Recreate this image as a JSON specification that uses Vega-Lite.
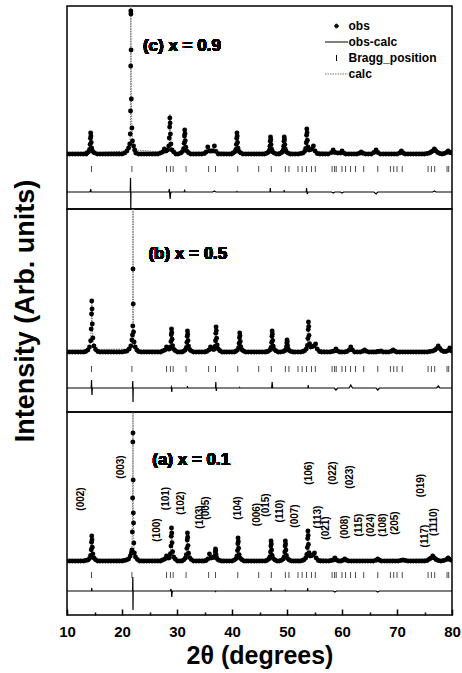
{
"$schema":"https://vega.github.io/schema/vega-lite/v6.json",
"padding":{"left":10,"top":5,"right":2,"bottom":2},
"spacing":0,
"bounds":"flush",
"config":{"font":"Liberation Sans","view":{"stroke":"black","strokeWidth":1.5},"mark":{"invalid":"filter"}},
"datasets":{
"bragg":[{"b":14.45},{"b":21.8},{"b":28.1},{"b":28.8},{"b":29.3},{"b":31.65},{"b":35.75},{"b":37.0},{"b":41.05},{"b":44.85},{"b":47.15},{"b":49.7},{"b":50.35},{"b":52.0},{"b":52.75},{"b":53.55},{"b":54.45},{"b":55.15},{"b":58.2},{"b":58.65},{"b":58.95},{"b":60.0},{"b":60.65},{"b":61.55},{"b":62.45},{"b":63.95},{"b":66.5},{"b":68.8},{"b":69.4},{"b":70.0},{"b":70.95},{"b":75.65},{"b":76.25},{"b":76.85},{"b":79.1},{"b":79.4}],
"hkl":[{"hkl":"(002)","t":12.6,"h":62},{"hkl":"(003)","t":19.75,"h":94},{"hkl":"(100)","t":26.4,"h":31},{"hkl":"(101)","t":28.05,"h":62.5},{"hkl":"(102)","t":30.8,"h":58},{"hkl":"(103)","t":34.1,"h":44},{"hkl":"(005)","t":35.3,"h":53},{"hkl":"(104)","t":41.1,"h":53},{"hkl":"(006)","t":44.5,"h":46.5},{"hkl":"(015)","t":46.1,"h":56},{"hkl":"(110)","t":48.8,"h":50},{"hkl":"(007)","t":51.4,"h":45},{"hkl":"(106)","t":54.0,"h":88},{"hkl":"(113)","t":55.6,"h":44},{"hkl":"(021)","t":57.1,"h":33},{"hkl":"(022)","t":58.4,"h":88},{"hkl":"(008)","t":60.5,"h":34},{"hkl":"(023)","t":61.4,"h":84},{"hkl":"(115)","t":63.1,"h":36},{"hkl":"(024)","t":65.2,"h":36},{"hkl":"(108)","t":67.5,"h":36},{"hkl":"(205)","t":69.7,"h":38},{"hkl":"(019)","t":74.4,"h":75.5},{"hkl":"(117)","t":75.0,"h":25},{"hkl":"(1110)","t":76.8,"h":39}],
"c":[
{"t":10,"o":0,"c":0,"d":0},{"t":10.5,"o":0},{"t":11,"o":0},{"t":11.5,"o":0},{"t":12,"o":0},{"t":12.5,"o":0},{"t":13,"o":0},{"t":13.5,"o":0},
{"t":13.6,"o":1,"c":1,"d":0},{"t":13.9,"o":2,"c":2,"d":0},{"t":14.1,"o":4.6,"c":4.6,"d":0},{"t":14.2,"o":9.5,"c":9,"d":0.5},{"t":14.26,"o":15.8,"c":15,"d":1},{"t":14.3,"o":21,"c":18,"d":3},{"t":14.35,"o":17.9,"c":17,"d":1},{"t":14.4,"o":11.6,"c":11.6,"d":0},{"t":14.5,"o":5.9,"c":5.9,"d":0},{"t":14.7,"o":2.5,"c":2.5,"d":0},{"t":15,"o":1.1,"c":1.1,"d":0},
{"t":15.5,"o":0},{"t":16,"o":0},{"t":16.5,"o":0},{"t":17,"o":0},{"t":17.5,"o":0},{"t":18,"o":0},{"t":18.5,"o":0},{"t":19,"o":0},{"t":19.5,"o":0},{"t":20,"o":0},{"t":20.5,"o":1},
{"t":20.9,"o":3,"c":3,"d":0},{"t":21.2,"o":6,"c":6,"d":0},{"t":21.4,"o":10,"c":10,"d":0},{"t":21.5,"o":20,"c":20,"d":0},{"t":21.55,"o":43,"c":29,"d":14},{"t":21.58,"o":88,"c":88,"d":0},{"t":21.6,"o":143,"c":165,"d":-18},{"t":21.62,"o":140,"c":140,"d":0},{"t":21.65,"o":104,"c":104,"d":0},{"t":21.7,"o":55,"c":55,"d":0},{"t":21.8,"o":26,"c":26,"d":0},{"t":21.9,"o":13,"c":13,"d":0},{"t":22.1,"o":8,"c":8,"d":0},{"t":22.3,"o":4,"c":4,"d":0},
{"t":22.5,"o":1},{"t":23,"o":0},{"t":23.5,"o":0},{"t":24,"o":0},{"t":24.5,"o":0},{"t":25,"o":0},{"t":25.5,"o":0},{"t":26,"o":0},{"t":26.5,"o":0},{"t":27,"o":1},
{"t":27.4,"o":2,"c":2,"d":0},{"t":27.7,"o":5,"c":5,"d":0},{"t":28,"o":3,"c":3,"d":0},{"t":28.3,"o":4,"c":4,"d":0},{"t":28.5,"o":8,"c":8,"d":0},{"t":28.6,"o":16,"c":13,"d":3},{"t":28.66,"o":27,"c":27,"d":0},{"t":28.7,"o":36,"c":40,"d":-4},{"t":28.75,"o":31,"c":38,"d":-7},{"t":28.8,"o":20,"c":23,"d":-3},{"t":28.9,"o":10,"c":10,"d":0},{"t":29.1,"o":4,"c":4,"d":0},{"t":29.4,"o":2,"c":2,"d":0},
{"t":29.8,"o":0},{"t":30.2,"o":0},
{"t":30.7,"o":1,"c":1,"d":0},{"t":31,"o":2.4,"c":2.4,"d":0},{"t":31.2,"o":5.3,"c":5.3,"d":0},{"t":31.3,"o":10.8,"c":10.8,"d":0},{"t":31.36,"o":18,"c":17,"d":1},{"t":31.4,"o":24,"c":22.5,"d":1.5},{"t":31.45,"o":20.4,"c":20,"d":0.4},{"t":31.5,"o":13.2,"c":13.2,"d":0},{"t":31.6,"o":6.7,"c":6.7,"d":0},{"t":31.8,"o":2.9,"c":2.9,"d":0},{"t":32.1,"o":1.2,"c":1.2,"d":0},
{"t":32.5,"o":0},{"t":33,"o":0},{"t":33.5,"o":0},{"t":34,"o":0},{"t":34.5,"o":0},{"t":35,"o":0.5},
{"t":35.3,"o":2,"c":2,"d":0},{"t":35.6,"o":7,"c":7,"d":0},{"t":35.9,"o":3,"c":3,"d":0},{"t":36.2,"o":3,"c":3,"d":0},{"t":36.5,"o":3,"c":3,"d":0},{"t":36.8,"o":8,"c":7,"d":1},{"t":37.1,"o":2.5,"c":2.5,"d":0},
{"t":37.5,"o":0},{"t":38,"o":0},{"t":38.5,"o":0},{"t":39,"o":0},{"t":39.5,"o":0},{"t":39.9,"o":0},
{"t":40.2,"o":1,"c":1,"d":0},{"t":40.5,"o":2.1,"c":2.1,"d":0},{"t":40.7,"o":4.6,"c":4.6,"d":0},{"t":40.8,"o":9.5,"c":9.5,"d":0},{"t":40.86,"o":15.8,"c":15.5,"d":0.3},{"t":40.9,"o":21,"c":20.5,"d":0.5},{"t":40.95,"o":17.9,"c":17.9,"d":0},{"t":41,"o":11.6,"c":11.6,"d":0},{"t":41.1,"o":5.9,"c":5.9,"d":0},{"t":41.3,"o":2.5,"c":2.5,"d":0},{"t":41.6,"o":1.1,"c":1.1,"d":0},
{"t":42,"o":0},{"t":42.5,"o":0},{"t":43,"o":0},{"t":43.5,"o":0},{"t":44,"o":0},{"t":44.5,"o":0},{"t":45,"o":0},{"t":45.5,"o":0},{"t":45.9,"o":0},
{"t":46.3,"o":0.7,"c":0.7,"d":0},{"t":46.6,"o":1.7,"c":1.7,"d":0},{"t":46.8,"o":3.7,"c":3.7,"d":0},{"t":46.9,"o":7.7,"c":7.7,"d":0},{"t":46.96,"o":12.8,"c":8.8,"d":4},{"t":47,"o":17,"c":16,"d":1},{"t":47.05,"o":14.5,"c":14.5,"d":0},{"t":47.1,"o":9.4,"c":9.4,"d":0},{"t":47.2,"o":4.8,"c":4.8,"d":0},{"t":47.4,"o":2,"c":2,"d":0},{"t":47.7,"o":0.9,"c":0.9,"d":0},
{"t":48.1,"o":0},{"t":48.5,"o":0},
{"t":48.8,"o":0.7,"c":0.7,"d":0},{"t":49.1,"o":1.7,"c":1.7,"d":0},{"t":49.3,"o":3.7,"c":3.7,"d":0},{"t":49.4,"o":7.7,"c":7.7,"d":0},{"t":49.46,"o":12.8,"c":12.8,"d":0},{"t":49.5,"o":17,"c":15,"d":2},{"t":49.55,"o":14.5,"c":14.5,"d":0},{"t":49.6,"o":9.4,"c":9.4,"d":0},{"t":49.7,"o":4.8,"c":4.8,"d":0},{"t":49.9,"o":2,"c":2,"d":0},{"t":50.2,"o":0.9,"c":0.9,"d":0},
{"t":50.6,"o":0},{"t":51,"o":0},{"t":51.5,"o":0},{"t":52,"o":0},{"t":52.5,"o":0.5},
{"t":52.9,"o":1,"c":1,"d":0},{"t":53.2,"o":2.5,"c":2.5,"d":0},{"t":53.4,"o":5.5,"c":5.5,"d":0},{"t":53.5,"o":11.3,"c":11.3,"d":0},{"t":53.56,"o":18.8,"c":14.8,"d":4},{"t":53.6,"o":25,"c":25,"d":0},{"t":53.65,"o":21.3,"c":21.3,"d":0},{"t":53.7,"o":13.8,"c":15.8,"d":-2},{"t":53.8,"o":7,"c":7,"d":0},{"t":54,"o":4,"c":4,"d":0},{"t":54.3,"o":4.5,"c":4.5,"d":0},{"t":54.5,"o":5,"c":5,"d":0},{"t":54.8,"o":8,"c":8,"d":0},{"t":55.1,"o":3,"c":3,"d":0},
{"t":55.5,"o":0.5},{"t":56,"o":0},{"t":56.5,"o":0},{"t":57,"o":0},{"t":57.5,"o":0},
{"t":58.1,"o":1.5,"c":1.5,"d":0},{"t":58.4,"o":4,"c":5,"d":-1},{"t":58.7,"o":1.5,"c":1.5,"d":0},{"t":59.2,"o":1},{"t":59.7,"o":1,"c":1,"d":0},{"t":60,"o":3,"c":4,"d":-1},{"t":60.3,"o":1,"c":1,"d":0},
{"t":60.7,"o":0},{"t":61.2,"o":0},{"t":61.7,"o":0},{"t":62.2,"o":0},{"t":62.7,"o":0},
{"t":63.2,"o":0.8,"c":0.8,"d":0},{"t":63.5,"o":2,"c":2,"d":0},{"t":63.8,"o":0.8,"c":0.8,"d":0},
{"t":64.3,"o":0},{"t":64.8,"o":0},{"t":65.3,"o":0},
{"t":65.8,"o":1.5,"c":1.5,"d":0},{"t":66.2,"o":4,"c":6,"d":-2},{"t":66.5,"o":1.5,"c":1.5,"d":0},
{"t":67,"o":0},{"t":67.5,"o":0},{"t":68,"o":0},{"t":68.5,"o":0},{"t":69,"o":0},{"t":69.5,"o":0},{"t":70,"o":0},
{"t":70.5,"o":1,"c":1,"d":0},{"t":70.8,"o":3,"c":3,"d":0},{"t":71.1,"o":1,"c":1,"d":0},
{"t":71.5,"o":0},{"t":72,"o":0},{"t":72.5,"o":0},{"t":73,"o":0},{"t":73.5,"o":0},{"t":74,"o":0},{"t":74.5,"o":0},{"t":75,"o":0},{"t":75.5,"o":0.5},{"t":75.9,"o":1},
{"t":76.2,"o":2,"c":2,"d":0},{"t":76.5,"o":3,"c":3,"d":0},{"t":76.8,"o":5,"c":4,"d":1},{"t":77.1,"o":3,"c":3,"d":0},{"t":77.4,"o":1.5,"c":1.5,"d":0},
{"t":77.8,"o":0.5},{"t":78.2,"o":0},{"t":78.6,"o":0.5},
{"t":79,"o":1.5,"c":1.5,"d":0},{"t":79.3,"o":3,"c":3,"d":0},{"t":79.6,"o":1.5,"c":1.5,"d":0},{"t":80,"o":1,"c":1,"d":0}
],
"b":[
{"t":10,"o":0,"c":0,"d":0},{"t":10.5,"o":0},{"t":11,"o":0},{"t":11.5,"o":0},{"t":12,"o":0},{"t":12.5,"o":0},{"t":13,"o":0},{"t":13.4,"o":0.5},
{"t":13.8,"o":2,"c":2,"d":0},{"t":14.1,"o":5.1,"c":5.1,"d":0},{"t":14.3,"o":11.2,"c":11.2,"d":0},{"t":14.4,"o":23,"c":23,"d":0},{"t":14.46,"o":38,"c":30,"d":8},{"t":14.5,"o":51,"c":51,"d":0},{"t":14.55,"o":43,"c":50,"d":-7},{"t":14.6,"o":28,"c":28,"d":0},{"t":14.7,"o":14,"c":14,"d":0},{"t":14.9,"o":6,"c":6,"d":0},{"t":15.2,"o":2.5,"c":2.5,"d":0},
{"t":15.6,"o":0.5},{"t":16,"o":0},{"t":16.5,"o":0},{"t":17,"o":0},{"t":17.5,"o":0},{"t":18,"o":0},{"t":18.5,"o":0},{"t":19,"o":0},{"t":19.5,"o":0},{"t":20,"o":0},{"t":20.5,"o":0.5},{"t":20.9,"o":1},
{"t":21.3,"o":3,"c":3,"d":0},{"t":21.6,"o":6,"c":6,"d":0},{"t":21.8,"o":12,"c":12,"d":0},{"t":21.9,"o":17,"c":17,"d":0},{"t":21.96,"o":26,"c":19,"d":7},{"t":22,"o":83,"c":165,"d":-14},{"t":22.04,"o":48,"c":48,"d":0},{"t":22.1,"o":20,"c":20,"d":0},{"t":22.2,"o":10,"c":10,"d":0},{"t":22.4,"o":5,"c":5,"d":0},{"t":22.7,"o":2,"c":2,"d":0},
{"t":23,"o":0.5},{"t":23.5,"o":0},{"t":24,"o":0},{"t":24.5,"o":0},{"t":25,"o":0},{"t":25.5,"o":0},{"t":26,"o":0},{"t":26.5,"o":0},{"t":27,"o":0},{"t":27.4,"o":1},
{"t":27.8,"o":2,"c":2,"d":0},{"t":28.1,"o":5,"c":5,"d":0},{"t":28.4,"o":3,"c":3,"d":0},{"t":28.6,"o":3,"c":3,"d":0},{"t":28.8,"o":5.1,"c":5.1,"d":0},{"t":28.9,"o":10.4,"c":10.4,"d":0},{"t":28.96,"o":17.3,"c":16.3,"d":1},{"t":29,"o":23,"c":23,"d":0},{"t":29.05,"o":19.6,"c":23.6,"d":-4},{"t":29.1,"o":12.7,"c":12.7,"d":0},{"t":29.2,"o":6.4,"c":6.4,"d":0},{"t":29.4,"o":2.8,"c":2.8,"d":0},{"t":29.7,"o":1.2,"c":1.2,"d":0},
{"t":30.1,"o":0},{"t":30.5,"o":0},{"t":30.9,"o":0},
{"t":31.2,"o":0.8,"c":0.8,"d":0},{"t":31.5,"o":2.1,"c":2.1,"d":0},{"t":31.7,"o":4.6,"c":4.6,"d":0},{"t":31.8,"o":9.5,"c":9.5,"d":0},{"t":31.86,"o":15.8,"c":15.8,"d":0},{"t":31.9,"o":21,"c":19,"d":2},{"t":31.95,"o":17.9,"c":17.9,"d":0},{"t":32,"o":11.6,"c":11.6,"d":0},{"t":32.1,"o":5.9,"c":5.9,"d":0},{"t":32.3,"o":2.5,"c":2.5,"d":0},{"t":32.6,"o":1.1,"c":1.1,"d":0},
{"t":33,"o":0},{"t":33.5,"o":0},{"t":34,"o":0},{"t":34.5,"o":0},{"t":35,"o":0},{"t":35.4,"o":0.5},
{"t":35.8,"o":2,"c":2,"d":0},{"t":36.1,"o":5,"c":5,"d":0},{"t":36.4,"o":3,"c":3,"d":0},{"t":36.7,"o":2.5,"c":2.5,"d":0},{"t":36.9,"o":5.5,"c":5.5,"d":0},{"t":37,"o":11.3,"c":11.3,"d":0},{"t":37.06,"o":18.8,"c":12.8,"d":6},{"t":37.1,"o":25,"c":25,"d":0},{"t":37.15,"o":21.3,"c":24.3,"d":-3},{"t":37.2,"o":13.8,"c":13.8,"d":0},{"t":37.3,"o":7,"c":7,"d":0},{"t":37.5,"o":3,"c":3,"d":0},{"t":37.8,"o":1.3,"c":1.3,"d":0},
{"t":38.2,"o":0},{"t":38.6,"o":0},{"t":39,"o":0},{"t":39.5,"o":0},{"t":40,"o":0},{"t":40.4,"o":0},
{"t":40.7,"o":0.8,"c":0.8,"d":0},{"t":41,"o":1.9,"c":1.9,"d":0},{"t":41.2,"o":4.2,"c":4.2,"d":0},{"t":41.3,"o":8.6,"c":8.6,"d":0},{"t":41.36,"o":14.3,"c":14.3,"d":0},{"t":41.4,"o":19,"c":18.5,"d":0.5},{"t":41.45,"o":16.2,"c":16.2,"d":0},{"t":41.5,"o":10.5,"c":10.5,"d":0},{"t":41.6,"o":5.3,"c":5.3,"d":0},{"t":41.8,"o":2.3,"c":2.3,"d":0},{"t":42.1,"o":1,"c":1,"d":0},
{"t":42.5,"o":0},{"t":43,"o":0},{"t":43.5,"o":0},{"t":44,"o":0},{"t":44.5,"o":0},{"t":45,"o":0},{"t":45.5,"o":0},{"t":46,"o":0},{"t":46.3,"o":0.3},
{"t":46.6,"o":0.8,"c":0.8,"d":0},{"t":46.9,"o":2.1,"c":2.1,"d":0},{"t":47.1,"o":4.6,"c":4.6,"d":0},{"t":47.2,"o":9.5,"c":9.5,"d":0},{"t":47.26,"o":15.8,"c":12.8,"d":3},{"t":47.3,"o":21,"c":15,"d":6},{"t":47.35,"o":17.9,"c":14.9,"d":3},{"t":47.4,"o":11.6,"c":11.6,"d":0},{"t":47.5,"o":5.9,"c":5.9,"d":0},{"t":47.7,"o":2.5,"c":2.5,"d":0},{"t":48,"o":1.1,"c":1.1,"d":0},
{"t":48.4,"o":0},{"t":48.8,"o":0},
{"t":49.3,"o":0.5,"c":0.5,"d":0},{"t":49.6,"o":1.2,"c":1.2,"d":0},{"t":49.8,"o":2.6,"c":2.6,"d":0},{"t":49.9,"o":5.4,"c":5.4,"d":0},{"t":49.96,"o":9,"c":9,"d":0},{"t":50,"o":12,"c":12,"d":0},{"t":50.05,"o":10.2,"c":10.2,"d":0},{"t":50.1,"o":6.6,"c":6.6,"d":0},{"t":50.2,"o":3.4,"c":3.4,"d":0},{"t":50.4,"o":1.4,"c":1.4,"d":0},{"t":50.7,"o":0.6,"c":0.6,"d":0},
{"t":51.1,"o":0},{"t":51.5,"o":0},{"t":52,"o":0},{"t":52.5,"o":0},{"t":52.9,"o":0.5},
{"t":53.2,"o":1.2,"c":1.2,"d":0},{"t":53.5,"o":3,"c":3,"d":0},{"t":53.7,"o":6.6,"c":6.6,"d":0},{"t":53.8,"o":13.5,"c":13.5,"d":0},{"t":53.86,"o":22.5,"c":19.5,"d":3},{"t":53.9,"o":30,"c":30,"d":0},{"t":53.95,"o":25.5,"c":25.5,"d":0},{"t":54,"o":16.5,"c":16.5,"d":0},{"t":54.1,"o":8.4,"c":8.4,"d":0},{"t":54.3,"o":5,"c":5,"d":0},{"t":54.6,"o":5.5,"c":5.5,"d":0},{"t":54.9,"o":6,"c":6,"d":0},{"t":55.2,"o":8,"c":8,"d":0},{"t":55.5,"o":3,"c":3,"d":0},
{"t":55.9,"o":0.5},{"t":56.3,"o":0},{"t":56.8,"o":0},{"t":57.3,"o":0},{"t":57.8,"o":0},{"t":58.2,"o":0.5},
{"t":58.6,"o":1,"c":1,"d":0},{"t":58.9,"o":3,"c":5,"d":-2},{"t":59.2,"o":1,"c":1,"d":0},
{"t":59.6,"o":0},{"t":60,"o":0},{"t":60.5,"o":0},{"t":60.9,"o":0.5},
{"t":61.3,"o":2,"c":2,"d":0},{"t":61.6,"o":5,"c":2,"d":3},{"t":61.9,"o":2,"c":2,"d":0},
{"t":62.3,"o":0},{"t":62.8,"o":0},{"t":63.3,"o":0},
{"t":63.8,"o":0.8,"c":0.8,"d":0},{"t":64.1,"o":2,"c":2,"d":0},{"t":64.4,"o":0.8,"c":0.8,"d":0},
{"t":64.9,"o":0},{"t":65.4,"o":0},{"t":65.8,"o":0},
{"t":66.2,"o":0,"c":0,"d":0},{"t":66.5,"o":0.5,"c":2.5,"d":-2},{"t":66.8,"o":0.5,"c":0.5,"d":0},
{"t":67.1,"o":1},{"t":67.5,"o":0},{"t":68,"o":0},{"t":68.5,"o":0},
{"t":69,"o":0.8,"c":0.8,"d":0},{"t":69.3,"o":2,"c":2,"d":0},{"t":69.6,"o":0.8,"c":0.8,"d":0},
{"t":70,"o":0},{"t":70.5,"o":0},{"t":71,"o":0},{"t":71.5,"o":0},{"t":72,"o":0},{"t":72.5,"o":0},{"t":73,"o":0},{"t":73.5,"o":0},{"t":74,"o":0},{"t":74.5,"o":0},{"t":75,"o":0},{"t":75.5,"o":0},{"t":76,"o":0.5},{"t":76.5,"o":1},
{"t":76.9,"o":2,"c":2,"d":0},{"t":77.2,"o":3.5,"c":3.5,"d":0},{"t":77.5,"o":6,"c":4,"d":2},{"t":77.8,"o":3.5,"c":3.5,"d":0},{"t":78.1,"o":1.5,"c":1.5,"d":0},
{"t":78.5,"o":0.5},{"t":78.9,"o":0.5},
{"t":79.3,"o":1.5,"c":1.5,"d":0},{"t":79.6,"o":4,"c":4,"d":0},{"t":79.9,"o":1.5,"c":1.5,"d":0},{"t":80,"o":1,"c":1,"d":0}
],
"a":[
{"t":10,"o":0,"c":0,"d":0},{"t":10.5,"o":0},{"t":11,"o":0},{"t":11.5,"o":0},{"t":12,"o":0},{"t":12.5,"o":0},{"t":13,"o":0},{"t":13.4,"o":0.5},
{"t":13.8,"o":1,"c":1,"d":0},{"t":14.1,"o":2.5,"c":2.5,"d":0},{"t":14.3,"o":5.5,"c":5.5,"d":0},{"t":14.4,"o":11.3,"c":11.3,"d":0},{"t":14.46,"o":18.8,"c":18.8,"d":0},{"t":14.5,"o":25,"c":22,"d":3},{"t":14.55,"o":21.3,"c":21.3,"d":0},{"t":14.6,"o":13.8,"c":13.8,"d":0},{"t":14.7,"o":7,"c":7,"d":0},{"t":14.9,"o":3,"c":3,"d":0},{"t":15.2,"o":1.3,"c":1.3,"d":0},
{"t":15.6,"o":0},{"t":16,"o":0},{"t":16.5,"o":0},{"t":17,"o":0},{"t":17.5,"o":0},{"t":18,"o":0},{"t":18.5,"o":0},{"t":19,"o":0},{"t":19.5,"o":0},{"t":20,"o":0},{"t":20.4,"o":0.5},{"t":20.8,"o":1},
{"t":21.2,"o":2,"c":2,"d":0},{"t":21.5,"o":5,"c":5,"d":0},{"t":21.7,"o":8,"c":8,"d":0},{"t":21.8,"o":11,"c":11,"d":0},{"t":21.88,"o":29,"c":29,"d":0},{"t":21.93,"o":63,"c":63,"d":0},{"t":21.97,"o":119,"c":105,"d":14},{"t":22,"o":128,"c":165,"d":-19},{"t":22.03,"o":81,"c":81,"d":0},{"t":22.06,"o":48,"c":48,"d":0},{"t":22.1,"o":38,"c":38,"d":0},{"t":22.15,"o":18,"c":18,"d":0},{"t":22.25,"o":8,"c":8,"d":0},{"t":22.45,"o":4,"c":4,"d":0},{"t":22.8,"o":1.5,"c":1.5,"d":0},
{"t":23.2,"o":0},{"t":23.6,"o":0},{"t":24,"o":0},{"t":24.5,"o":0},{"t":25,"o":0},{"t":25.5,"o":0},{"t":26,"o":0},{"t":26.5,"o":0},{"t":27,"o":0},{"t":27.4,"o":1},
{"t":27.8,"o":2,"c":2,"d":0},{"t":28.1,"o":5,"c":5,"d":0},{"t":28.4,"o":3,"c":3,"d":0},{"t":28.6,"o":3.3,"c":3.3,"d":0},{"t":28.8,"o":7.3,"c":7.3,"d":0},{"t":28.9,"o":14.9,"c":12.9,"d":2},{"t":28.96,"o":24.8,"c":24.8,"d":0},{"t":29,"o":33,"c":33,"d":0},{"t":29.05,"o":28,"c":34,"d":-6},{"t":29.1,"o":18.2,"c":20.2,"d":-2},{"t":29.2,"o":9.2,"c":9.2,"d":0},{"t":29.4,"o":4,"c":4,"d":0},{"t":29.7,"o":1.7,"c":1.7,"d":0},
{"t":30.1,"o":0},{"t":30.5,"o":0},{"t":30.9,"o":0},
{"t":31.2,"o":1.1,"c":1.1,"d":0},{"t":31.5,"o":2.8,"c":2.8,"d":0},{"t":31.7,"o":6.2,"c":6.2,"d":0},{"t":31.8,"o":12.6,"c":12.6,"d":0},{"t":31.86,"o":21,"c":21,"d":0},{"t":31.9,"o":28,"c":28,"d":0},{"t":31.95,"o":23.8,"c":23.8,"d":0},{"t":32,"o":15.4,"c":15.4,"d":0},{"t":32.1,"o":7.8,"c":7.8,"d":0},{"t":32.3,"o":3.4,"c":3.4,"d":0},{"t":32.6,"o":1.4,"c":1.4,"d":0},
{"t":33,"o":0},{"t":33.5,"o":0},{"t":34,"o":0},{"t":34.5,"o":0},{"t":34.9,"o":0},{"t":35.3,"o":0.5},
{"t":35.6,"o":2,"c":2,"d":0},{"t":35.9,"o":7,"c":7,"d":0},{"t":36.2,"o":3,"c":3,"d":0},{"t":36.5,"o":3.5,"c":3.5,"d":0},{"t":36.7,"o":3.6,"c":3.6,"d":0},{"t":36.9,"o":5.4,"c":5.4,"d":0},{"t":36.96,"o":9,"c":9,"d":0},{"t":37,"o":12,"c":13,"d":-1},{"t":37.05,"o":10.2,"c":10.2,"d":0},{"t":37.1,"o":6.6,"c":6.6,"d":0},{"t":37.2,"o":3.4,"c":3.4,"d":0},{"t":37.4,"o":1.4,"c":1.4,"d":0},{"t":37.7,"o":0.6,"c":0.6,"d":0},
{"t":38.1,"o":0},{"t":38.5,"o":0},{"t":39,"o":0},{"t":39.5,"o":0},{"t":40,"o":0},
{"t":40.4,"o":0.9,"c":0.9,"d":0},{"t":40.7,"o":2.3,"c":2.3,"d":0},{"t":40.9,"o":5.1,"c":5.1,"d":0},{"t":41,"o":10.4,"c":10.4,"d":0},{"t":41.06,"o":17.3,"c":17.3,"d":0},{"t":41.1,"o":23,"c":23,"d":0},{"t":41.15,"o":19.6,"c":19.6,"d":0},{"t":41.2,"o":12.7,"c":12.7,"d":0},{"t":41.3,"o":6.4,"c":6.4,"d":0},{"t":41.5,"o":2.8,"c":2.8,"d":0},{"t":41.8,"o":1.2,"c":1.2,"d":0},
{"t":42.2,"o":0},{"t":42.6,"o":0},{"t":43,"o":0},{"t":43.5,"o":0},{"t":44,"o":0},{"t":44.5,"o":0},{"t":45,"o":0},{"t":45.5,"o":0},{"t":46,"o":0},
{"t":46.4,"o":0.8,"c":0.8,"d":0},{"t":46.7,"o":2,"c":2,"d":0},{"t":46.9,"o":4.4,"c":4.4,"d":0},{"t":47,"o":9,"c":9,"d":0},{"t":47.06,"o":15,"c":15,"d":0},{"t":47.1,"o":20,"c":17,"d":3},{"t":47.15,"o":17,"c":17,"d":0},{"t":47.2,"o":11,"c":11,"d":0},{"t":47.3,"o":5.6,"c":5.6,"d":0},{"t":47.5,"o":2.4,"c":2.4,"d":0},{"t":47.8,"o":1,"c":1,"d":0},
{"t":48.2,"o":0},{"t":48.6,"o":0},
{"t":49,"o":0.8,"c":0.8,"d":0},{"t":49.3,"o":2,"c":2,"d":0},{"t":49.5,"o":4.4,"c":4.4,"d":0},{"t":49.6,"o":9,"c":9,"d":0},{"t":49.66,"o":15,"c":15,"d":0},{"t":49.7,"o":20,"c":19,"d":1},{"t":49.75,"o":17,"c":17,"d":0},{"t":49.8,"o":11,"c":11,"d":0},{"t":49.9,"o":5.6,"c":5.6,"d":0},{"t":50.1,"o":2.4,"c":2.4,"d":0},{"t":50.4,"o":1,"c":1,"d":0},
{"t":50.8,"o":0},{"t":51.2,"o":0},{"t":51.6,"o":0},{"t":52,"o":0},{"t":52.4,"o":0},{"t":52.8,"o":0.5},
{"t":53.1,"o":1.2,"c":1.2,"d":0},{"t":53.4,"o":3,"c":3,"d":0},{"t":53.6,"o":6.6,"c":6.6,"d":0},{"t":53.7,"o":13.5,"c":13.5,"d":0},{"t":53.76,"o":22.5,"c":19.5,"d":3},{"t":53.8,"o":30,"c":30,"d":0},{"t":53.85,"o":25.5,"c":25.5,"d":0},{"t":53.9,"o":16.5,"c":16.5,"d":0},{"t":54,"o":8.4,"c":8.4,"d":0},{"t":54.2,"o":5,"c":5,"d":0},{"t":54.5,"o":5.5,"c":5.5,"d":0},{"t":54.7,"o":6,"c":6,"d":0},{"t":55,"o":8,"c":8,"d":0},{"t":55.3,"o":3,"c":3,"d":0},
{"t":55.7,"o":0.5},{"t":56.1,"o":0},{"t":56.6,"o":0},{"t":57.1,"o":0},{"t":57.6,"o":0},{"t":58,"o":0.5},
{"t":58.4,"o":1,"c":1,"d":0},{"t":58.7,"o":3,"c":4,"d":-1},{"t":59,"o":1,"c":1,"d":0},
{"t":59.4,"o":0},{"t":59.8,"o":0},
{"t":60.2,"o":0.8,"c":0.8,"d":0},{"t":60.5,"o":2,"c":2,"d":0},{"t":60.8,"o":0.8,"c":0.8,"d":0},
{"t":61.2,"o":0},{"t":61.7,"o":0},{"t":62.2,"o":0},{"t":62.7,"o":0},{"t":63.2,"o":0},{"t":63.7,"o":0},{"t":64.2,"o":0},{"t":64.7,"o":0},{"t":65.2,"o":0},{"t":65.7,"o":0},
{"t":66.2,"o":0.8,"c":0.8,"d":0},{"t":66.5,"o":2,"c":3,"d":-1},{"t":66.8,"o":0.8,"c":0.8,"d":0},
{"t":67.2,"o":0},{"t":67.7,"o":0},{"t":68.2,"o":0},{"t":68.7,"o":0},{"t":69.2,"o":0},{"t":69.7,"o":0},{"t":70.2,"o":0},
{"t":70.7,"o":0.5},{"t":71.1,"o":1},{"t":71.5,"o":0.5},
{"t":72,"o":0},{"t":72.5,"o":0},{"t":73,"o":0},{"t":73.5,"o":0},{"t":74,"o":0},{"t":74.5,"o":0},{"t":75,"o":0},{"t":75.5,"o":0.5},
{"t":75.9,"o":2,"c":2,"d":0},{"t":76.2,"o":3,"c":3,"d":0},{"t":76.5,"o":5,"c":5,"d":0},{"t":76.8,"o":3,"c":3,"d":0},{"t":77.1,"o":1.5,"c":1.5,"d":0},
{"t":77.5,"o":0.5},{"t":78,"o":0},{"t":78.5,"o":0.5},
{"t":79,"o":1.5,"c":1.5,"d":0},{"t":79.3,"o":3,"c":3,"d":0},{"t":79.6,"o":1.5,"c":1.5,"d":0},{"t":80,"o":0.5,"c":0.5,"d":0}
]
},
"vconcat":[
{
"width":385,"height":203,
"data":{"name":"c"},
"layer":[
{"mark":{"type":"line","strokeWidth":1,"strokeDash":[1.5,1],"clip":true,"invalid":"filter"},
 "encoding":{"x":{"field":"t","type":"quantitative","scale":{"domain":[10,80]},"axis":null},
  "y":{"field":"c","type":"quantitative","scale":{"domain":[-55,148]},"axis":null},
  "color":{"datum":"calc","type":"nominal","scale":{"domain":["obs","obs-calc","Bragg_position","calc"],"range":["black","black","black","#777777"]},
   "legend":{"title":null,"orient":"none","legendX":257.5,"legendY":12,"padding":0,"labelFont":"Liberation Sans","labelFontSize":12,"labelFontWeight":"bold","labelColor":"black","symbolSize":196,"clipHeight":16,"rowPadding":0,"labelOffset":0,
    "encode":{"symbols":{"update":{
     "shape":{"signal":"datum.value === 'obs' ? 'circle' : datum.value === 'Bragg_position' ? 'M0,-1L0,1' : 'stroke'"},
     "size":{"signal":"datum.value === 'obs' ? 14 : datum.value === 'Bragg_position' ? 36 : 529"},
     "fill":{"signal":"datum.value === 'obs' ? 'black' : 'transparent'"},
     "stroke":{"signal":"datum.value === 'calc' ? '#777777' : 'black'"},
     "strokeDash":{"signal":"datum.value === 'calc' ? [1.5,1] : [1,0]"},
     "strokeWidth":{"value":1},
     "opacity":{"value":1}}}}}}}},
{"mark":{"type":"point","filled":true,"size":24,"opacity":1,"clip":true},
 "encoding":{"x":{"field":"t","type":"quantitative","scale":{"domain":[10,80]},"axis":null},
  "y":{"field":"o","type":"quantitative","scale":{"domain":[-55,148]},"axis":null},
  "color":{"datum":"obs","type":"nominal"}}},
{"data":{"name":"bragg"},"mark":{"type":"tick","orient":"vertical","size":6,"thickness":1},
 "encoding":{"x":{"field":"b","type":"quantitative","scale":{"domain":[10,80]},"axis":null},
  "y":{"datum":-15,"type":"quantitative","scale":{"domain":[-55,148]},"axis":null},
  "color":{"datum":"Bragg_position","type":"nominal"}}},
{"mark":{"type":"line","strokeWidth":1.2,"clip":true,"invalid":"filter"},
 "encoding":{"x":{"field":"t","type":"quantitative","scale":{"domain":[10,80]},"axis":null},
  "y":{"field":"d","type":"quantitative","scale":{"domain":[-17,186]},"axis":null},
  "color":{"datum":"obs-calc","type":"nominal"}}},
{"mark":{"type":"text","align":"left","baseline":"middle","fontSize":17,"fontWeight":"bold","color":"black"},
 "encoding":{"x":{"datum":23.8,"type":"quantitative","scale":{"domain":[10,80]},"axis":null},
  "y":{"datum":108,"type":"quantitative","scale":{"domain":[-55,148]},"axis":null},
  "text":{"value":"(c) x = 0.9"}}}
],
"resolve":{"scale":{"y":"independent"}}
},
{
"width":385,"height":203,
"data":{"name":"b"},
"layer":[
{"mark":{"type":"line","strokeWidth":1,"strokeDash":[1.5,1],"color":"#777777","clip":true,"invalid":"filter"},
 "encoding":{"x":{"field":"t","type":"quantitative","scale":{"domain":[10,80]},"axis":null},
  "y":{"field":"c","type":"quantitative","scale":{"domain":[-60,143]},"axis":null}}},
{"mark":{"type":"point","filled":true,"size":24,"opacity":1,"color":"black","clip":true},
 "encoding":{"x":{"field":"t","type":"quantitative","scale":{"domain":[10,80]},"axis":null},
  "y":{"field":"o","type":"quantitative","scale":{"domain":[-60,143]},
   "axis":{"title":"Intensity (Arb. units)","labels":false,"ticks":false,"domain":false,"grid":false,"titleFontSize":27,"titleFontWeight":"bold","titleColor":"black","titlePadding":28}}}},
{"data":{"name":"bragg"},"mark":{"type":"tick","orient":"vertical","size":6,"thickness":1,"color":"black"},
 "encoding":{"x":{"field":"b","type":"quantitative","scale":{"domain":[10,80]},"axis":null},
  "y":{"datum":-17,"type":"quantitative","scale":{"domain":[-60,143]},"axis":null}}},
{"mark":{"type":"line","strokeWidth":1.2,"color":"black","clip":true,"invalid":"filter"},
 "encoding":{"x":{"field":"t","type":"quantitative","scale":{"domain":[10,80]},"axis":null},
  "y":{"field":"d","type":"quantitative","scale":{"domain":[-24,179]},"axis":null}}},
{"mark":{"type":"text","align":"left","baseline":"middle","fontSize":17,"fontWeight":"bold","color":"black"},
 "encoding":{"x":{"datum":24.8,"type":"quantitative","scale":{"domain":[10,80]},"axis":null},
  "y":{"datum":98,"type":"quantitative","scale":{"domain":[-60,143]},"axis":null},
  "text":{"value":"(b) x = 0.5"}}}
],
"resolve":{"scale":{"y":"independent"}}
},
{
"width":385,"height":203,
"data":{"name":"a"},
"layer":[
{"mark":{"type":"line","strokeWidth":1,"strokeDash":[1.5,1],"color":"#777777","clip":true,"invalid":"filter"},
 "encoding":{"x":{"field":"t","type":"quantitative","scale":{"domain":[10,80]},
   "axis":{"orient":"bottom","values":[10,20,30,40,50,60,70,80],"tickSize":-6,"tickColor":"black","tickWidth":1.5,"domain":false,"grid":false,"labelFontSize":15,"labelFontWeight":"bold","labelColor":"black","labelPadding":15,"labelFlush":false,"labelOverlap":false,
    "title":"2θ (degrees)","titleFontSize":25,"titleFontWeight":"bold","titleColor":"black","titlePadding":4}},
  "y":{"field":"c","type":"quantitative","scale":{"domain":[-54,149]},"axis":null}}},
{"mark":{"type":"point","filled":true,"size":24,"opacity":1,"color":"black","clip":true},
 "encoding":{"x":{"field":"t","type":"quantitative","scale":{"domain":[10,80]},
   "axis":{"orient":"bottom","values":[15,25,35,45,55,65,75],"labels":false,"tickSize":-3,"tickColor":"black","tickWidth":1.5,"domain":false,"grid":false,"title":null}},
  "y":{"field":"o","type":"quantitative","scale":{"domain":[-54,149]},"axis":null}}},
{"data":{"name":"bragg"},"mark":{"type":"tick","orient":"vertical","size":6,"thickness":1,"color":"black"},
 "encoding":{"x":{"field":"b","type":"quantitative","scale":{"domain":[10,80]},"axis":null},
  "y":{"datum":-14,"type":"quantitative","scale":{"domain":[-54,149]},"axis":null}}},
{"mark":{"type":"line","strokeWidth":1.2,"color":"black","clip":true,"invalid":"filter"},
 "encoding":{"x":{"field":"t","type":"quantitative","scale":{"domain":[10,80]},"axis":null},
  "y":{"field":"d","type":"quantitative","scale":{"domain":[-24,179]},"axis":null}}},
{"mark":{"type":"text","align":"left","baseline":"middle","fontSize":17,"fontWeight":"bold","color":"black"},
 "encoding":{"x":{"datum":25.5,"type":"quantitative","scale":{"domain":[10,80]},"axis":null},
  "y":{"datum":101,"type":"quantitative","scale":{"domain":[-54,149]},"axis":null},
  "text":{"value":"(a) x = 0.1"}}},
{"data":{"name":"hkl"},"mark":{"type":"text","angle":270,"align":"center","baseline":"middle","fontSize":10,"fontWeight":"bold","color":"black"},
 "encoding":{"x":{"field":"t","type":"quantitative","scale":{"domain":[10,80]},"axis":null},
  "y":{"field":"h","type":"quantitative","scale":{"domain":[-54,149]},"axis":null},
  "text":{"field":"hkl"}}}
],
"resolve":{"scale":{"y":"independent"},"axis":{"x":"independent"}}
}
]
}
